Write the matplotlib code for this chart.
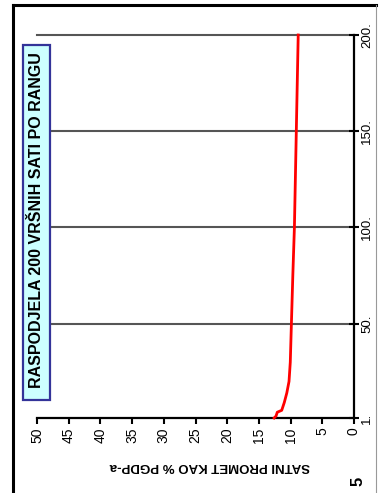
import matplotlib
matplotlib.use('Agg')
import matplotlib.pyplot as plt
from matplotlib.patches import Rectangle
from matplotlib.lines import Line2D

plt.rcParams['font.family'] = ['Liberation Sans', 'DejaVu Sans']

# rank of the hour vs hourly traffic as % of AADT
rank = [1, 2, 4, 5, 9, 14, 20, 30, 47, 75, 100, 150, 200]
pct = [12.6, 12.3, 12.1, 11.4, 11.0, 10.6, 10.25, 10.05, 9.9, 9.65, 9.4, 9.1, 8.8]

val_ticks = list(range(0, 55, 5))
rank_ticks = [1, 50, 100, 150, 200]
rank_labels = ['1.', '50.', '100.', '150.', '200.']

title = 'RASPODJELA 200 VRŠNIH SATI PO RANGU'
ylabel = 'SATNI PROMET KAO % PGDP-a'

W, H = 379, 493
fig = plt.figure(figsize=(W / 100, H / 100), dpi=100)

def fx(px):
    return px / W

def fy(py):
    return 1 - py / H

ax = fig.add_axes([fx(37), fy(418), fx(354) - fx(37), fy(35) - fy(418)])
ax.set_xlim(50, 0)
ax.set_ylim(1, 200)

for r in rank_ticks[1:]:
    ax.axhline(r, color='#555555', lw=1.5, zorder=1, clip_on=False)
ax.plot(pct, rank, color='#ff0000', lw=2, zorder=3, clip_on=False)

for s in ['left', 'top']:
    ax.spines[s].set_visible(False)
for s in ['bottom', 'right']:
    ax.spines[s].set_color('black')
    ax.spines[s].set_linewidth(1.6)

ax.set_xticks(val_ticks)
ax.set_xticklabels([str(v) for v in val_ticks], rotation=90, fontsize=10)
ax.yaxis.tick_right()
ax.set_yticks(rank_ticks)
ax.set_yticklabels(rank_labels, rotation=90, fontsize=9.5, va='center')
ax.tick_params(axis='x', direction='out', length=4, width=1.5, pad=3)
ax.tick_params(axis='y', direction='inout', length=7, width=1.5, pad=1.5)

# title box
fig.patches.append(Rectangle((fx(23), fy(400)), fx(50) - fx(23), fy(45) - fy(400),
                             transform=fig.transFigure, facecolor='#ccffff',
                             edgecolor='#333399', lw=1.6, zorder=5))
fig.text(fx(36.5), fy(220), title, rotation=90, ha='center', va='center',
         fontsize=11.5, fontweight='bold', zorder=6)

fig.text(fx(210), fy(466), ylabel, rotation=180, ha='center', va='center',
         fontsize=9.5, fontweight='bold')
fig.text(fx(358), fy(481), '5', rotation=90, ha='center', va='center',
         fontsize=12, fontweight='bold')

# page frame
fig.lines.append(Line2D([fx(13), fx(13)], [fy(5), 0], transform=fig.transFigure, color='black', lw=2.2))
fig.lines.append(Line2D([fx(13), fx(376)], [fy(5), fy(5)], transform=fig.transFigure, color='black', lw=2.2))
fig.lines.append(Line2D([fx(376), fx(376)], [fy(5), 0], transform=fig.transFigure, color='#999999', lw=0.8))

fig.savefig('out.png', dpi=100)
